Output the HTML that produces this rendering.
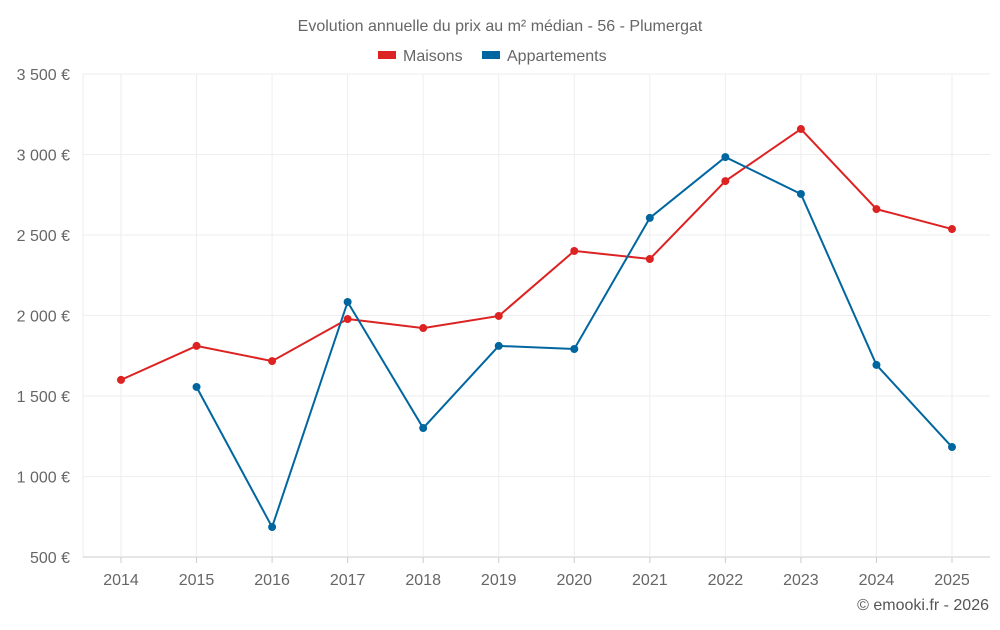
<!DOCTYPE html>
<html><head><meta charset="utf-8"><style>
body{margin:0;background:#fff;font-family:"Liberation Sans",sans-serif}
text{font-family:"Liberation Sans",sans-serif}
</style></head><body>
<svg id="chart" width="1000" height="625" xmlns="http://www.w3.org/2000/svg">
<text x="500" y="31" text-anchor="middle" font-size="16" fill="#666">Evolution annuelle du prix au m² médian - 56 - Plumergat</text>
<g>
<g><rect x="378" y="51" width="18" height="8" fill="#dd2222"/><text x="403" y="61" font-size="16" fill="#666">Maisons</text></g>
<g><rect x="482" y="51" width="18" height="8" fill="#0066a0"/><text x="507" y="61" font-size="16" fill="#666">Appartements</text></g>
</g>
<g id="grid"></g><g id="axes"></g><g id="series"></g>
<text x="989" y="610" text-anchor="end" font-size="16" fill="#555">© emooki.fr - 2026</text>
</svg>
<script>
const years=[2014,2015,2016,2017,2018,2019,2020,2021,2022,2023,2024,2025];
const maisons=[1600,1811,1717,1978,1922,1997,2401,2351,2835,3158,2661,2537];
const appartements=[null,1556,686,2084,1301,1811,1792,2606,2984,2755,1693,1183];
const yTicks=[500,1000,1500,2000,2500,3000,3500];
const yTickLabels=["500 €","1 000 €","1 500 €","2 000 €","2 500 €","3 000 €","3 500 €"];
const NS="http://www.w3.org/2000/svg";
const L=83,R=990,T=74,B=557,yMin=500,yMax=3500;
const x=i=>121+i*(952-121)/(years.length-1);
const y=v=>B-(v-yMin)/(yMax-yMin)*(B-T);
function mk(tag,attrs,parent){const e=document.createElementNS(NS,tag);for(const k in attrs)e.setAttribute(k,attrs[k]);parent.appendChild(e);return e;}
const grid=document.getElementById('grid'),axes=document.getElementById('axes'),ser=document.getElementById('series');
mk('line',{x1:L,x2:L,y1:T,y2:B,stroke:'#eee'},grid);
yTicks.forEach((t,i)=>{
 const g=mk('line',{x1:L,x2:R,y1:y(t),y2:y(t),stroke:i===0?'#ccc':'#eee'},grid);
 
 
 const tx=mk('text',{x:70,y:y(t)+6,'text-anchor':'end','font-size':16,fill:'#666'},axes);
 tx.textContent=yTickLabels[i];
 
 
});
years.forEach((yr,i)=>{
 const g=mk('line',{x1:x(i),x2:x(i),y1:T,y2:B,stroke:'#eee'},grid);
 
 
 mk('line',{x1:x(i),x2:x(i),y1:B,y2:B+6,stroke:'#ccc'},axes);
 const tx=mk('text',{x:x(i),y:585,'text-anchor':'middle','font-size':16,fill:'#666'},axes);
 tx.textContent=yr;
 
 
});
function draw(vals,color,name){
 let d='';let pen=false;
 vals.forEach((v,i)=>{if(v==null){pen=false;return;}d+=(pen?'L':'M')+x(i)+' '+y(v)+' ';pen=true;});
 const p=mk('path',{d:d,fill:'none',stroke:color,'stroke-width':2},ser);
 
 
 vals.forEach((v,i)=>{if(v==null)return;
  const c=mk('circle',{cx:x(i),cy:y(v),r:4,fill:color},ser);
  
  
 });
}
draw(maisons,'#dd2222','maisons');
draw(appartements,'#0066a0','appartements');
</script>
</body></html>
